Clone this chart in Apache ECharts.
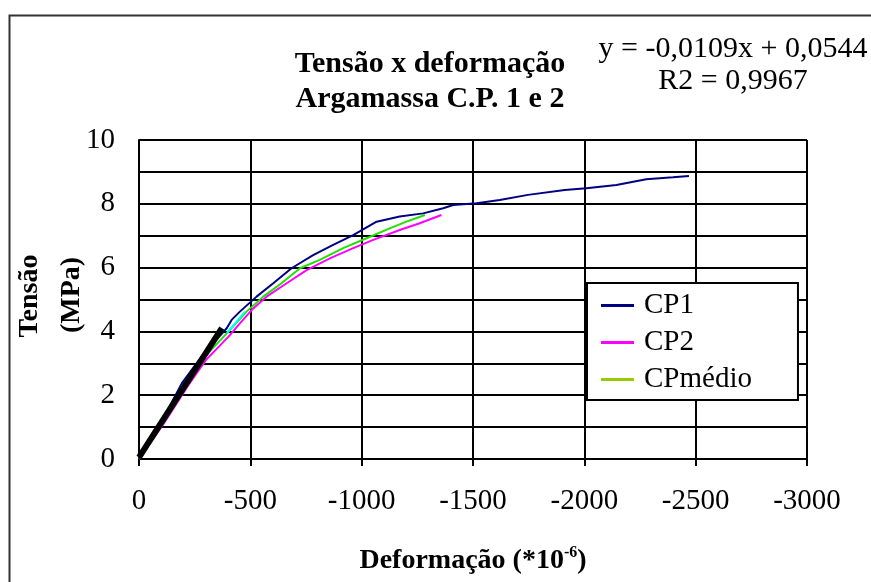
<!DOCTYPE html>
<html>
<head>
<meta charset="utf-8">
<script src="https://cdn.jsdelivr.net/npm/echarts@6/dist/echarts.min.js"></script>
<style>
  html, body { margin: 0; padding: 0; background: #fff; }
  #chart { width: 871px; height: 582px; }
</style>
</head>
<body>
<div id="chart"></div>
<script>
// deformação (*10^-6), tensão (MPa)
var cp1 = [[0, 0], [-100, 1.15], [-192, 2.37], [-290, 3.3], [-394, 4.1], [-416, 4.36], [-453, 4.62],
  [-528, 5.09], [-603, 5.51], [-685, 5.98], [-782, 6.39], [-872, 6.71], [-962, 7.02], [-1067, 7.44],
  [-1171, 7.6], [-1276, 7.7], [-1366, 7.86], [-1411, 7.96], [-1516, 8.02], [-1620, 8.12],
  [-1747, 8.28], [-1912, 8.43], [-2009, 8.49], [-2144, 8.59], [-2278, 8.77], [-2398, 8.83], [-2470, 8.87]];
var cp2 = [[0, 0], [-110, 1.1], [-220, 2.3], [-300, 3.1], [-401, 3.83], [-453, 4.25], [-513, 4.72],
  [-573, 5.09], [-663, 5.51], [-753, 5.92], [-857, 6.29], [-962, 6.61], [-1052, 6.87], [-1171, 7.18],
  [-1261, 7.39], [-1358, 7.65]];
var cpMedio = [[0, 0], [-105, 1.1], [-200, 2.3], [-295, 3.2], [-408, 4.04], [-483, 4.62], [-558, 5.09],
  [-640, 5.51], [-723, 5.98], [-812, 6.24], [-917, 6.61], [-1022, 6.92], [-1126, 7.23], [-1201, 7.44],
  [-1284, 7.65]];
var cyanPart = [[-395, 3.95], [-476, 4.62]];
var trend = [[0, 0.05], [-372, 4.1]];

var xTickLabels = ['0', '-500', '-1000', '-1500', '-2000', '-2500', '-3000'];
var yTickLabels = ['0', '2', '4', '6', '8', '10'];

var serif = 'Liberation Serif';
var myChart = echarts.init(document.getElementById('chart'));

var option = {
  backgroundColor: '#fff',
  animation: false,
  title: [
    {
      text: 'Tensão x deformação\nArgamassa C.P. 1 e 2',
      left: 430, top: 47, textAlign: 'center', padding: 0,
      textStyle: { fontFamily: serif, fontSize: 30, fontWeight: 'bold', color: '#000', lineHeight: 35 }
    },
    {
      text: 'y = -0,0109x + 0,0544\nR2 = 0,9967',
      left: 733, top: 33, textAlign: 'center', padding: 0,
      textStyle: { fontFamily: serif, fontSize: 30, fontWeight: 'normal', color: '#000', lineHeight: 32 }
    }
  ],
  graphic: [
    { type: 'rect', left: 7, top: 13, shape: { width: 900, height: 600 }, style: { fill: null, stroke: '#333', lineWidth: 2 }, silent: true },
    { type: 'text', x: 30, y: 296, rotation: Math.PI / 2,
      style: { text: 'Tensão', font: 'bold 28px ' + serif, fill: '#000', align: 'center', verticalAlign: 'middle' } },
    { type: 'text', x: 72, y: 295, rotation: Math.PI / 2,
      style: { text: '(MPa)', font: 'bold 28px ' + serif, fill: '#000', align: 'center', verticalAlign: 'middle' } }
  ],
  legend: {
    left: 587, top: 283, orient: 'vertical',
    padding: [8, 46, 6, 14], itemGap: 8, itemWidth: 33, itemHeight: 3, icon: 'rect',
    backgroundColor: '#fff', borderColor: '#000', borderWidth: 2,
    textStyle: { fontFamily: serif, fontSize: 29, color: '#000', padding: [0, 0, 0, 5] },
    data: [
      { name: 'CP1' },
      { name: 'CP2' },
      { name: 'CPmédio', itemStyle: { color: '#99cc00' } }
    ]
  },
  grid: { left: 139, top: 140, right: 64, bottom: 123 },
  xAxis: {
    type: 'value', min: -3000, max: 0, interval: 500, inverse: true,
    name: '{a|Deformação (*10}{s|-6}{a|)}', nameLocation: 'middle', nameGap: 86,
    nameTextStyle: {
      rich: {
        a: { fontFamily: serif, fontSize: 28, fontWeight: 'bold', color: '#000' },
        s: { fontFamily: serif, fontSize: 16, fontWeight: 'bold', color: '#000', verticalAlign: 'top', padding: [0, 0, 16, 0] }
      }
    },
    axisLine: { onZero: false, lineStyle: { color: '#000', width: 2 } },
    axisTick: { show: true, length: 7, lineStyle: { color: '#000', width: 2 } },
    axisLabel: {
      margin: 28, fontFamily: serif, fontSize: 29, color: '#000',
      formatter: function (v) { return xTickLabels[Math.round(-v / 500)]; }
    },
    splitLine: { show: true, lineStyle: { color: '#000', width: 2 } }
  },
  yAxis: {
    type: 'value', min: 0, max: 10, interval: 1,
    axisLine: { show: true, lineStyle: { color: '#000', width: 2 } },
    axisTick: { show: false },
    axisLabel: {
      margin: 24, fontFamily: serif, fontSize: 29, color: '#000',
      formatter: function (v) { return v % 2 === 0 ? yTickLabels[v / 2] : ''; }
    },
    splitLine: { show: true, lineStyle: { color: '#000', width: 2 } }
  },
  series: [
    { name: 'CP2', type: 'line', data: cp2, symbol: 'none', color: '#ff00ff', lineStyle: { width: 2 }, z: 3 },
    { name: 'CPmédio', type: 'line', data: cpMedio, symbol: 'none', color: '#22e000', lineStyle: { width: 2 }, z: 4 },
    { name: 'CP1', type: 'line', data: cp1, symbol: 'none', color: '#000080', lineStyle: { width: 2 }, z: 5 },
    { name: 'cyan', type: 'line', data: cyanPart, symbol: 'none', color: '#00ffff', lineStyle: { width: 2 }, z: 6 },
    { name: 'Linear', type: 'line', data: trend, symbol: 'none', color: '#000', lineStyle: { width: 6, color: '#000' }, z: 10 }
  ]
};

option && myChart.setOption(option);
</script>
</body>
</html>
